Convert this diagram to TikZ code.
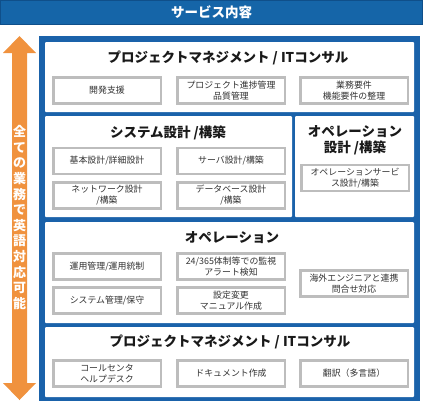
\documentclass[tikz,border=0pt]{standalone}
\usepackage{fontspec}
\setmainfont{Noto Sans CJK JP}
\definecolor{barblue}{HTML}{1565A8}
\definecolor{barline}{HTML}{0F4F8A}
\definecolor{frameblue}{HTML}{1A62AA}
\definecolor{boxgray}{HTML}{BDBDBD}
\definecolor{arroworange}{HTML}{F0923E}
\definecolor{txtdark}{HTML}{333333}
\tikzset{
  panel/.style={fill=white, draw=none, rounded corners=1pt, inner sep=0pt},
  ptitle/.style={font=\fontsize{13.5}{16}\selectfont\bfseries, text=black!90, align=center, inner sep=0pt},
  subbox/.style={fill=white, draw=boxgray, line width=2.5pt, minimum width=107.5pt, minimum height=26pt,
    inner sep=1pt, align=center, text=txtdark, font=\fontsize{8.9}{11}\selectfont},
}
\begin{document}
\begin{tikzpicture}[x=1pt,y=-1pt]
\useasboundingbox (0,0) rectangle (423,405);
% title bar
\node[fill=barblue, draw=barline, line width=1pt, minimum width=422pt, minimum height=24.5pt, inner sep=0pt,
  text=white, font=\fontsize{13.5}{16}\selectfont\bfseries] (bar) at (211.5,12.5) {サービス内容};
% main frame
\node[fill=frameblue, minimum width=381pt, minimum height=365pt, inner sep=0pt] (frame) at (229.5,218.5) {};
% panels
\node[panel, minimum width=369pt, minimum height=70pt] (p1) at (229.5,77) {};
\node[panel, minimum width=247pt, minimum height=101pt] (p2) at (168.5,166.5) {};
\node[panel, minimum width=119pt, minimum height=101pt] (p3) at (354.5,166.5) {};
\node[panel, minimum width=369pt, minimum height=101pt] (p4) at (229.5,272.5) {};
\node[panel, minimum width=369pt, minimum height=70pt] (p5) at (229.5,362) {};
% titles
\node[ptitle] (t1) at (228,58) {プロジェクトマネジメント / ITコンサル};
\node[ptitle] (t2) at (168,133) {システム設計 /構築};
\node[ptitle] (t3) at (355,140) {オペレーション\\設計 /構築};
\node[ptitle] (t4) at (232,238) {オペレーション};
\node[ptitle] (t5) at (230,342) {プロジェクトマネジメント / ITコンサル};
% panel 1 boxes
\node[subbox] (b11) at (107,90.5) {開発支援};
\node[subbox] (b12) at (231,90.5) {プロジェクト進捗管理\\品質管理};
\node[subbox] (b13) at (354,90.5) {業務要件\\機能要件の整理};
% panel 2 boxes
\node[subbox] (b21) at (107,161) {基本設計/詳細設計};
\node[subbox] (b22) at (231,161) {サーバ設計/構築};
\node[subbox] (b23) at (107,195.5) {ネットワーク設計\\/構築};
\node[subbox] (b24) at (231,195.5) {データベース設計\\/構築};
% panel 3 box
\node[subbox] (b31) at (355,178) {オペレーションサービ\\ス設計/構築};
% panel 4 boxes
\node[subbox] (b41) at (107,266.5) {運用管理/運用統制};
\node[subbox] (b42) at (231,266.5) {24/365体制等での監視\\アラート検知};
\node[subbox] (b43) at (107,300.5) {システム管理/保守};
\node[subbox] (b44) at (231,300.5) {設定変更\\マニュアル作成};
\node[subbox] (b45) at (354,283.5) {海外エンジニアと連携\\問合せ対応};
% panel 5 boxes
\node[subbox] (b51) at (107,373.5) {コールセンタ\\ヘルプデスク};
\node[subbox] (b52) at (231,373.5) {ドキュメント作成};
\node[subbox] (b53) at (354,373.5) {翻訳（多言語）};
% orange double arrow
\fill[arroworange] (19.5,36) -- (36,53) -- (27,53) -- (27,383) -- (36,383) -- (19.5,400)
  -- (3,383) -- (12,383) -- (12,53) -- (3,53) -- cycle;
\node[text=white, align=center, inner sep=0pt, font=\fontsize{13}{15.6}\selectfont\bfseries] (vt) at (19.5,217.5)
  {全\\て\\の\\業\\務\\で\\英\\語\\対\\応\\可\\能};
\end{tikzpicture}
\end{document}
